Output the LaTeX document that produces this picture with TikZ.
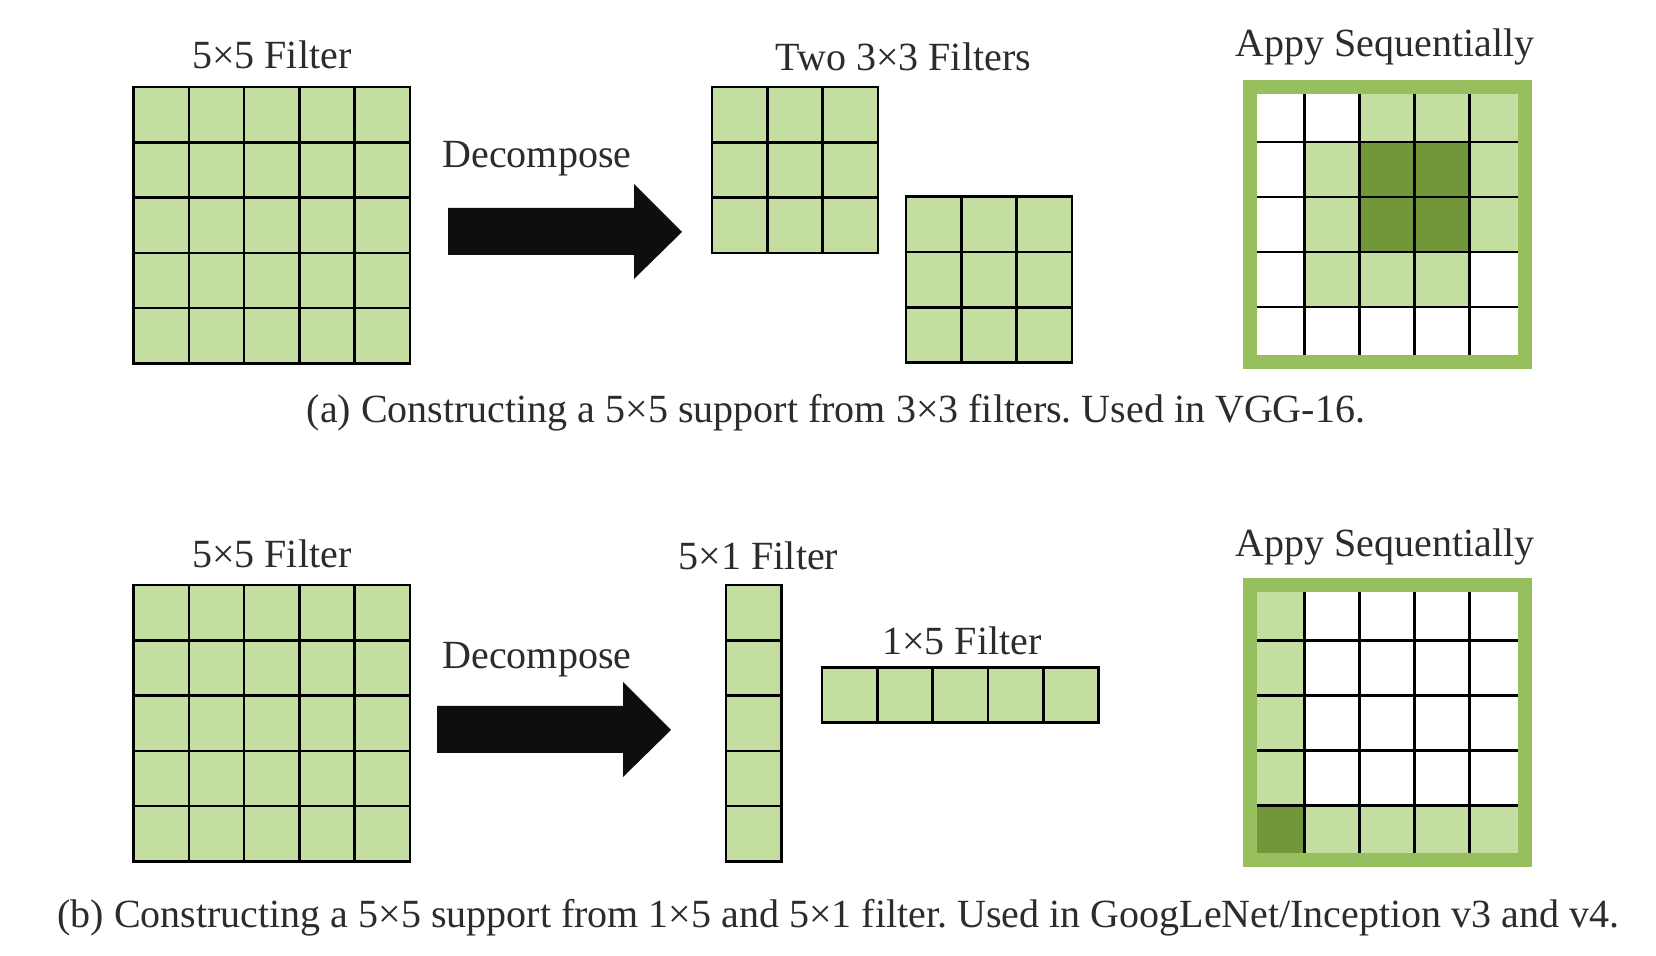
\documentclass[tikz,border=0pt]{standalone}
\usepackage{fontspec}
\setmainfont{Liberation Serif}
\usetikzlibrary{calc}
\frenchspacing
\definecolor{lightg}{HTML}{C4DDA0}
\definecolor{darkg}{HTML}{72973A}
\definecolor{borderg}{HTML}{97BF5E}
\definecolor{textc}{HTML}{2B2B30}
\definecolor{arrowc}{HTML}{0E0E0E}
\newcommand{\fgrid}[6]{% name, x, y, cols, rows, cell
  \node[inner sep=0pt, outer sep=0pt, fill=lightg, minimum width={#4*#6*0.5pt}, minimum height={#5*#6*0.5pt}, anchor=north west] (#1) at (#2,#3) {};
  \pgfmathtruncatemacro\fgc{#4-1}\pgfmathtruncatemacro\fgr{#5-1}
  \foreach \c in {0,...,\fgc} \foreach \r in {0,...,\fgr}
    \draw[cellln] ($(#1.north west)+(\c*#6,\r*#6)$) rectangle ++(#6,#6);
}
\begin{document}
\frenchspacing
\begin{tikzpicture}[x=0.5pt,y=-0.5pt,
  lbl/.style={text=textc, font=\fontsize{20}{24}\selectfont\frenchspacing, inner sep=0pt, anchor=base},
  cellln/.style={draw=black, line width=1.3pt},
  bigarrow/.style={fill=arrowc},
  apply/.style={inner sep=0pt, outer sep=0pt, fill=white, minimum width=137.6pt, minimum height=137.6pt, anchor=north west},
  frame/.style={draw=borderg, line width=7pt}]
\useasboundingbox[fill=white] (0,0) rectangle (1656,956);

% ---------- (a) ----------
\fgrid{ga1}{133.5}{87}{5}{5}{55.3}
\node[lbl] (la1) at (ga1.north |- 0,69) {5×5 Filter};
\node[lbl] (da) at (537,168) {Decompose};
\fill[bigarrow] (448,208) -- (634,208) -- (634,184) -- (682,232) -- (634,279) -- (634,255) -- (448,255) -- cycle;
\fgrid{ga2}{712}{87}{3}{3}{55.3}
\fgrid{ga3}{906}{196.7}{3}{3}{55.3}
\node[lbl] (la2) at (903.3,70.7) {Two 3×3 Filters};

\node[apply] (aa) at (1249.7,87.2) {};
\foreach \c/\r in {2/0,3/0,4/0,1/1,4/1,1/2,4/2,1/3,2/3,3/3}
  \fill[lightg] ($(aa.north west)+(\c*55,\r*55)$) rectangle ++(55,55);
\foreach \c/\r in {2/1,3/1,2/2,3/2}
  \fill[darkg] ($(aa.north west)+(\c*55,\r*55)$) rectangle ++(55,55);
\foreach \c in {0,...,4} \foreach \r in {0,...,4}
  \draw[cellln] ($(aa.north west)+(\c*55,\r*55)$) rectangle ++(55,55);
\draw[frame] (aa.north west) rectangle (aa.south east);
\node[lbl] (la3) at (1385,56.7) {Appy Sequentially};

\node[lbl] (capa) at (836,423) {(a) Constructing a 5×5 support from 3×3 filters. Used in VGG-16.};

% ---------- (b) ----------
\fgrid{gb1}{133.5}{585}{5}{5}{55.3}
\node[lbl] (lb1) at (gb1.north |- 0,568) {5×5 Filter};
\node[lbl] (db) at (537,669) {Decompose};
\fill[bigarrow] (437,706) -- (623,706) -- (623,682) -- (671,730) -- (623,777) -- (623,753) -- (437,753) -- cycle;
\fgrid{gb2}{726}{585}{1}{5}{55.3}
\node[lbl] (lb2) at (758.6,569.3) {5×1 Filter};
\fgrid{gb3}{822}{667.3}{5}{1}{55.3}
\node[lbl] (lb3) at (962,655) {1×5 Filter};

\node[apply] (ab) at (1249.7,585.3) {};
\foreach \c/\r in {0/0,0/1,0/2,0/3,1/4,2/4,3/4,4/4}
  \fill[lightg] ($(ab.north west)+(\c*55,\r*55)$) rectangle ++(55,55);
\fill[darkg] ($(ab.north west)+(0,4*55)$) rectangle ++(55,55);
\foreach \c in {0,...,4} \foreach \r in {0,...,4}
  \draw[cellln] ($(ab.north west)+(\c*55,\r*55)$) rectangle ++(55,55);
\draw[frame] (ab.north west) rectangle (ab.south east);
\node[lbl] (lb4) at (1385,557) {Appy Sequentially};

\node[lbl] (capb) at (838.5,928) {(b) Constructing a 5×5 support from 1×5 and 5×1 filter. Used in GoogLeNet/Inception v3 and v4.};
\end{tikzpicture}
\end{document}
